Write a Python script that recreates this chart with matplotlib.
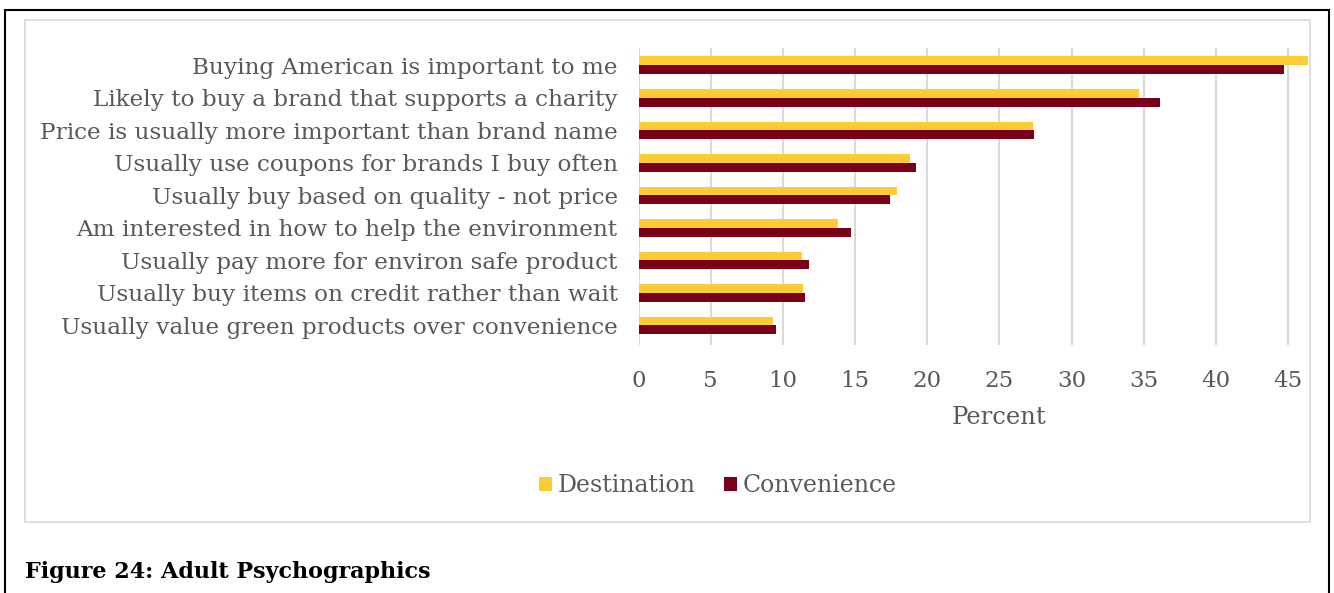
import matplotlib
matplotlib.use("Agg")
import matplotlib.pyplot as plt
import numpy as np
from matplotlib.patches import Rectangle

categories = ["Buying American is important to me",
              "Likely to buy a brand that supports a charity",
              "Price is usually more important than brand name",
              "Usually use coupons for brands I buy often",
              "Usually buy based on quality - not price",
              "Am interested in how to help the environment",
              "Usually pay more for environ safe product",
              "Usually buy items on credit rather than wait",
              "Usually value green products over convenience"]
destination = [46.4, 34.7, 27.3, 18.8, 17.9, 13.8, 11.3, 11.4, 9.3]
convenience = [44.7, 36.1, 27.4, 19.2, 17.4, 14.7, 11.8, 11.5, 9.5]
xticks = [0, 5, 10, 15, 20, 25, 30, 35, 40, 45]

GOLD = "#FFCC33"
MAROON = "#7A0019"
GREY = "#595959"
FONT = "DejaVu Serif"

plt.rcParams["font.family"] = FONT

fig = plt.figure(figsize=(13.34, 5.93), dpi=100)
W, H = 1334, 593

# outer page frame and the chart's light border
fig.add_artist(Rectangle((5 / W, -0.1), 1324 / W, (H - 10) / H + 0.1,
                         transform=fig.transFigure, fill=False,
                         edgecolor="black", linewidth=1.5))
fig.add_artist(Rectangle((25 / W, (H - 522) / H), 1285 / W, 502 / H,
                         transform=fig.transFigure, fill=False,
                         edgecolor="#D9D9D9", linewidth=1.2))

ax = fig.add_axes([638.5 / W, (H - 345) / H, (1309 - 638.5) / W, (345 - 48) / H])

y = np.arange(len(categories))
h = 0.27
ax.barh(y - h / 2, destination, height=h, color=GOLD, label="Destination", zorder=3)
ax.barh(y + h / 2, convenience, height=h, color=MAROON, label="Convenience", zorder=3)

xmax = 46.45
ax.set_xlim(0, xmax)
ax.set_ylim(len(categories) - 0.4, -0.53)
ax.set_xticks(xticks)
ax.set_yticks(y)
ax.set_yticklabels(categories, fontsize=16.7)
ax.grid(axis="x", color="#D9D9D9", linewidth=1.5, zorder=0)
for s in ax.spines.values():
    s.set_visible(False)
ax.tick_params(axis="both", length=0, labelcolor=GREY)
ax.tick_params(axis="x", labelsize=16.5, pad=18)
ax.tick_params(axis="y", pad=15)
ax.set_xlabel("Percent", fontsize=17.5, color=GREY)
# the value axis runs to 50, so its title sits over 25
ax.xaxis.set_label_coords(25 / xmax, -0.205)

leg = fig.legend(loc="center", bbox_to_anchor=(718 / W, (H - 486) / H), ncol=2,
                 frameon=False, fontsize=17, handlelength=0.55, handleheight=0.55,
                 handletextpad=0.25, columnspacing=1.2)
for t in leg.get_texts():
    t.set_color(GREY)

fig.text(25 / W, (H - 572) / H, "Figure 24: Adult Psychographics", fontsize=16,
         fontweight="bold", color="black", va="center", ha="left")

fig.savefig("out.png", dpi=100)
